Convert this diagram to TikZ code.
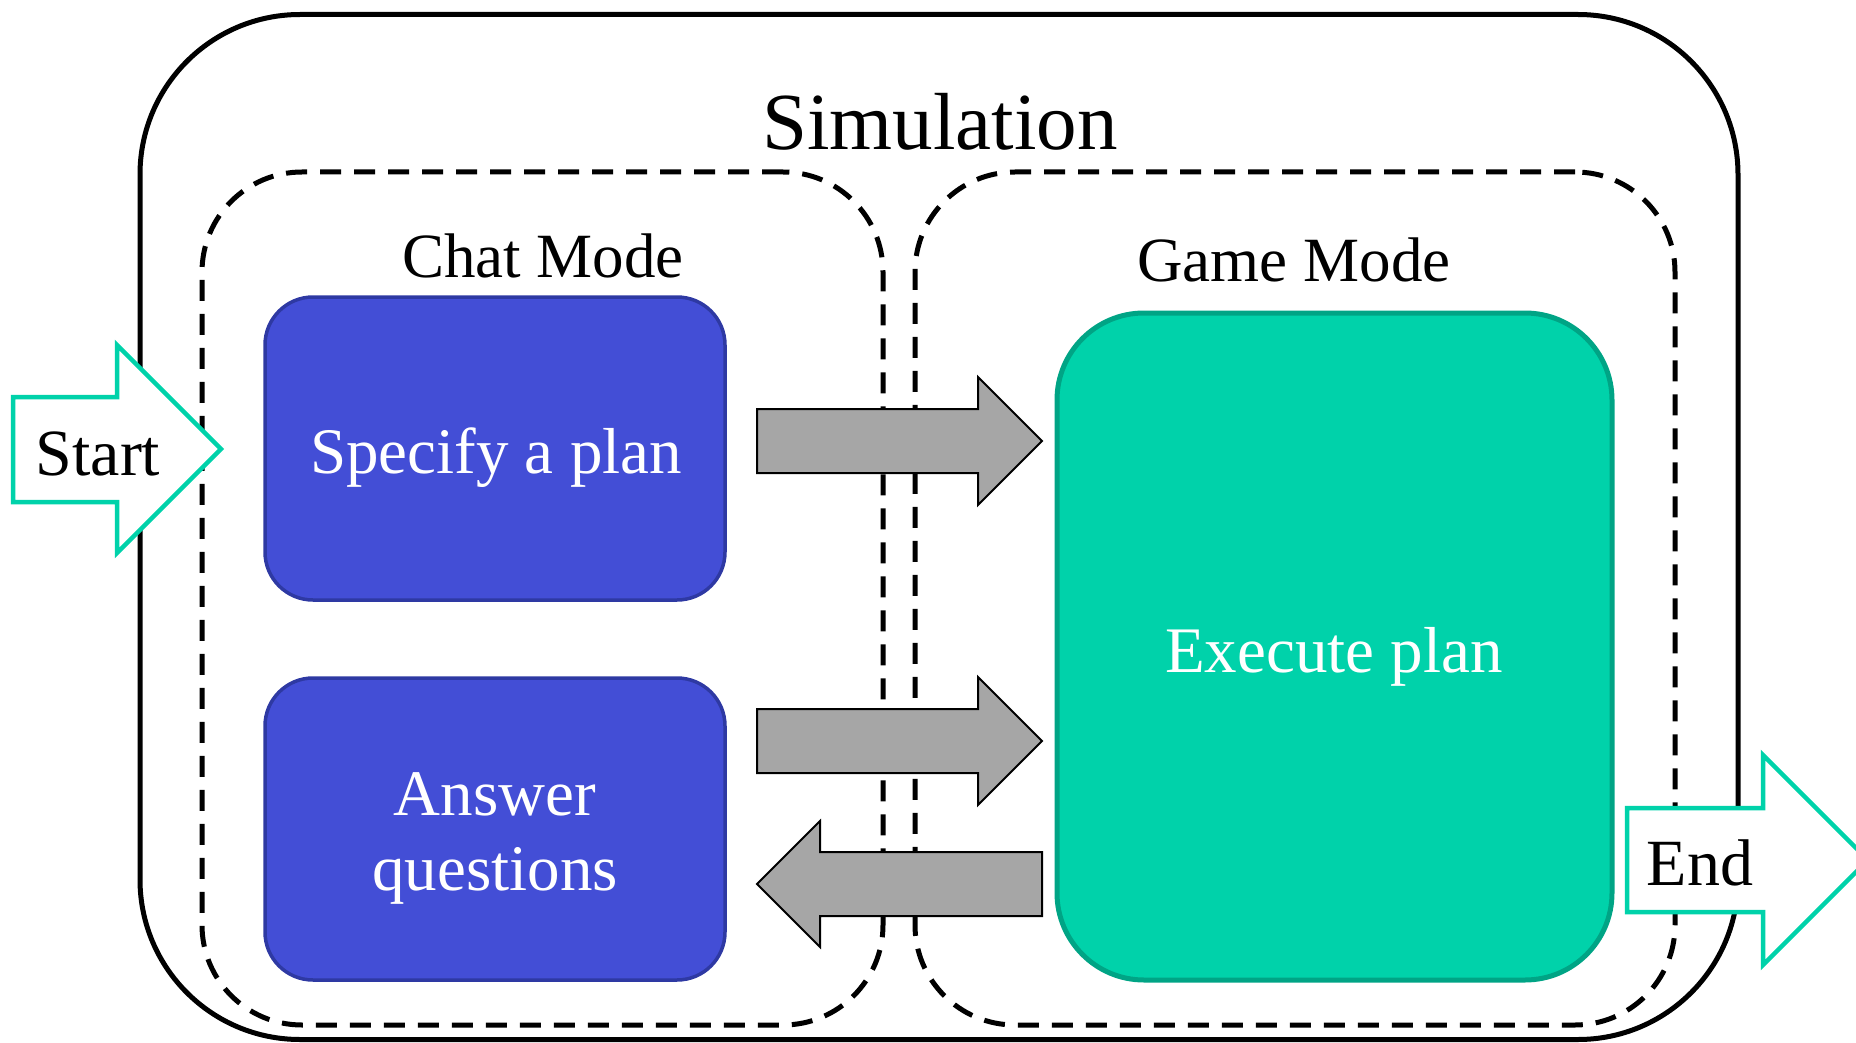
\documentclass[tikz,border=0pt]{standalone}
\usepackage{fontspec}
\setmainfont{Liberation Serif}
\usetikzlibrary{calc}

\definecolor{planblue}{HTML}{434ED6}
\definecolor{planblueedge}{HTML}{2E39A3}
\definecolor{gameteal}{HTML}{00D2AA}
\definecolor{gametealedge}{HTML}{00A485}
\definecolor{flowgray}{HTML}{A6A6A6}

\tikzset{
  outerframe/.style={draw=black, line width=5pt, rounded corners=160pt, inner sep=0pt},
  modeframe/.style={draw=black, line width=5pt, dash pattern=on 21pt off 13pt,
    rounded corners=100pt, inner sep=0pt},
  chatbox/.style={draw=planblueedge, fill=planblue, line width=3.5pt,
    rounded corners=48pt, inner sep=0pt},
  gamebox/.style={draw=gametealedge, fill=gameteal, line width=5pt,
    rounded corners=87pt, inner sep=0pt},
  flowarrow/.style={draw=black, fill=flowgray, line width=2pt, line join=miter},
  endarrow/.style={draw=gameteal, fill=white, line width=4.5pt, line join=miter},
  titletext/.style={font=\fontsize{81}{97}\selectfont, anchor=base, inner sep=0pt},
  modetext/.style={font=\fontsize{63}{75}\selectfont, anchor=base, inner sep=0pt},
  boxtext/.style={font=\fontsize{65}{78}\selectfont, anchor=base, inner sep=0pt, text=white},
  endtext/.style={font=\fontsize{66}{79}\selectfont, anchor=base, inner sep=0pt},
}

\begin{document}
\begin{tikzpicture}[x=1pt, y=-1pt]
  \useasboundingbox (0,0) rectangle (1856,1043);

  % frames
  \node[outerframe, minimum width=1598pt, minimum height=1025pt] (sim) at (939,527) {};
  \node[modeframe, minimum width=681pt, minimum height=853pt] (chat) at (542.5,598.5) {};
  \node[modeframe, minimum width=760pt, minimum height=853pt] (game) at (1295,598.5) {};

  % frame titles
  \node[titletext] (simlabel) at (940,150) {Simulation};
  \node[modetext] (chatlabel) at (543,277) {Chat Mode};
  \node[modetext] (gamelabel) at (1294,282) {Game Mode};

  % activity boxes
  \node[chatbox, minimum width=460pt, minimum height=303pt] (spec) at (495,448.5) {};
  \node[chatbox, minimum width=460pt, minimum height=302pt] (answer) at (495,829) {};
  \node[gamebox, minimum width=555pt, minimum height=667pt] (exec) at (1334.5,646.5) {};

  \node[boxtext] (speclabel) at (496,473) {Specify a plan};
  \node[boxtext] (answerlabel1) at (495,815) {Answer};
  \node[boxtext] (answerlabel2) at (495,890) {questions};
  \node[boxtext] (execlabel) at (1334,672) {Execute plan};

  % transitions between the modes
  \draw[flowarrow] (757,409) -- (978,409) -- (978,377) -- (1042,441)
    -- (978,505) -- (978,473) -- (757,473) -- cycle;
  \draw[flowarrow] (757,709) -- (978,709) -- (978,677) -- (1042,741)
    -- (978,805) -- (978,773) -- (757,773) -- cycle;
  \draw[flowarrow] (1042,852) -- (820,852) -- (820,821) -- (757,884)
    -- (820,947) -- (820,916) -- (1042,916) -- cycle;

  % entry and exit
  \draw[endarrow] (13,397) -- (117,397) -- (117,345) -- (221,449)
    -- (117,553) -- (117,502) -- (13,502) -- cycle;
  \node[endtext] (startlabel) at (98,475) {Start};

  \draw[endarrow] (1627,808) -- (1763,808) -- (1763,755) -- (1868,860)
    -- (1763,965) -- (1763,912) -- (1627,912) -- cycle;
  \node[endtext] (endlabel) at (1700,885) {End};
\end{tikzpicture}
\end{document}
